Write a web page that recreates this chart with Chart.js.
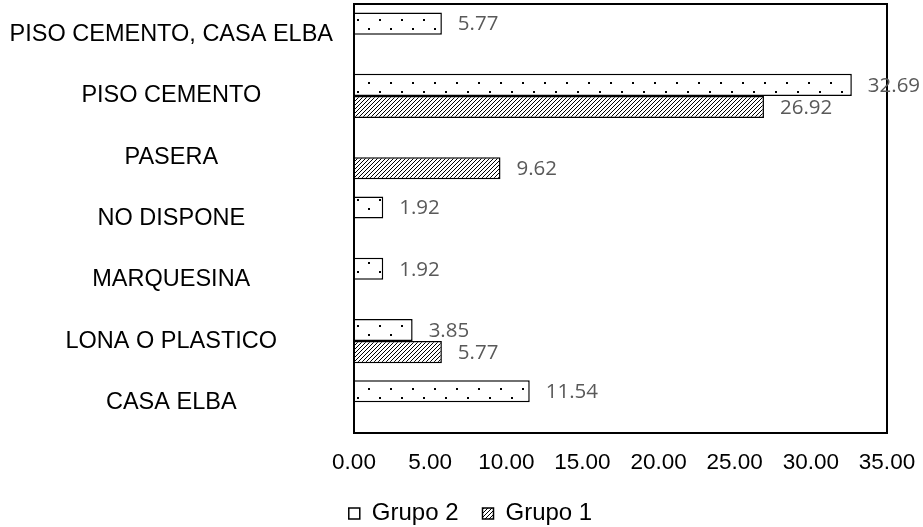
<!DOCTYPE html>
<html>
<head>
<meta charset="utf-8">
<script src="https://cdn.jsdelivr.net/npm/chart.js@4.4.0/dist/chart.umd.min.js"></script>
<style>
  html, body { margin: 0; padding: 0; background: #ffffff; }
  #wrap { width: 923px; height: 527px; position: relative; }
</style>
</head>
<body>
<div id="wrap"><canvas id="c"></canvas></div>
<script>
// ---- data ----
const categories = [
  "PISO CEMENTO, CASA ELBA",
  "PISO CEMENTO",
  "PASERA",
  "NO DISPONE",
  "MARQUESINA",
  "LONA O PLASTICO",
  "CASA ELBA"
];
const grupo2 = [5.77, 32.69, null, 1.92, 1.92, 3.85, 11.54];
const grupo1 = [null, 26.92, 9.62, null, null, 5.77, null];
const seriesNames = ["Grupo 2", "Grupo 1"];
const xTicks = [0, 5, 10, 15, 20, 25, 30, 35];

// ---- patterns ----
function dotPattern() {
  const c = document.createElement('canvas');
  c.width = 22; c.height = 18;
  const g = c.getContext('2d');
  g.fillStyle = '#ffffff'; g.fillRect(0, 0, 22, 18);
  g.fillStyle = '#000000';
  g.fillRect(5, 1, 2, 2);
  g.fillRect(16, 10, 2, 2);
  return g.createPattern(c, 'repeat');
}
function hatchPattern() {
  const c = document.createElement('canvas');
  c.width = 4; c.height = 4;
  const g = c.getContext('2d');
  g.fillStyle = '#ffffff'; g.fillRect(0, 0, 4, 4);
  g.fillStyle = '#000000';
  for (let i = 0; i < 4; i++) g.fillRect(i, 3 - i, 1, 1);
  return g.createPattern(c, 'repeat');
}

const frame = {
  id: 'frame',
  afterDatasetsDraw(chart) {
    const a = chart.chartArea, ctx = chart.ctx;
    ctx.save();
    ctx.strokeStyle = '#000000';
    ctx.lineWidth = 2;
    ctx.strokeRect(a.left, a.top, a.right - a.left, a.bottom - a.top);
    ctx.restore();
  }
};

const valueLabels = {
  id: 'valueLabels',
  afterDatasetsDraw(chart) {
    const ctx = chart.ctx;
    ctx.save();
    ctx.font = '20.5px "Open Sans", "DejaVu Sans", sans-serif';
    ctx.fillStyle = '#595959';
    ctx.textAlign = 'left';
    ctx.textBaseline = 'middle';
    chart.data.datasets.forEach((ds, di) => {
      const meta = chart.getDatasetMeta(di);
      meta.data.forEach((el, i) => {
        const v = ds.data[i];
        if (v === null || v === undefined) return;
        ctx.fillText(v.toFixed(2), el.x + 16, el.y + 1);
      });
    });
    ctx.restore();
  }
};

const legendShift = {
  id: 'legendShift',
  afterLayout(chart) {
    const l = chart.legend;
    if (l) { l.top += 8.5; l.bottom += 8.5; l.left += 27; l.right += 27; }
  }
};

new Chart(document.getElementById('c'), {
  type: 'bar',
  data: {
    labels: categories,
    datasets: [
      {
        label: seriesNames[0],
        data: grupo2,
        backgroundColor: dotPattern(),
        borderColor: '#000000',
        borderWidth: 1.5,
        categoryPercentage: 0.72,
        barPercentage: 1.0
      },
      {
        label: seriesNames[1],
        data: grupo1,
        backgroundColor: hatchPattern(),
        borderColor: '#000000',
        borderWidth: 1.5,
        categoryPercentage: 0.72,
        barPercentage: 1.0
      }
    ]
  },
  options: {
    indexAxis: 'y',
    responsive: true,
    maintainAspectRatio: false,
    animation: false,
    layout: { padding: { top: 4, right: 36, left: 0, bottom: 0 } },
    plugins: {
      tooltip: { enabled: false },
      legend: {
        position: 'bottom',
        align: 'center',
        labels: {
          boxWidth: 11,
          boxHeight: 11,
          padding: 24,
          color: '#000000',
          font: { family: '"Liberation Sans", Arial, sans-serif', size: 24 }
        }
      }
    },
    scales: {
      x: {
        type: 'linear',
        min: 0,
        max: 35,
        afterBuildTicks(scale) { scale.ticks = xTicks.map(v => ({ value: v })); },
        afterFit(scale) { scale.height = 36; scale.paddingLeft = 0; scale.paddingRight = 0; },
        grid: { display: false, drawTicks: false },
        border: { display: false },
        ticks: {
          padding: 16,
          color: '#000000',
          maxRotation: 0,
          autoSkip: false,
          font: { family: '"Liberation Sans", Arial, sans-serif', size: 22.5 },
          callback: v => Number(v).toFixed(2)
        }
      },
      y: {
        grid: { display: false, drawTicks: false },
        border: { display: false },
        afterFit(scale) { scale.width = 354; scale.paddingTop = 0; scale.paddingBottom = 0; },
        ticks: {
          crossAlign: 'center',
          padding: 21,
          color: '#000000',
          autoSkip: false,
          font: { family: '"Liberation Sans", Arial, sans-serif', size: 23.5 }
        }
      }
    }
  },
  plugins: [frame, valueLabels, legendShift]
});
</script>
</body>
</html>
